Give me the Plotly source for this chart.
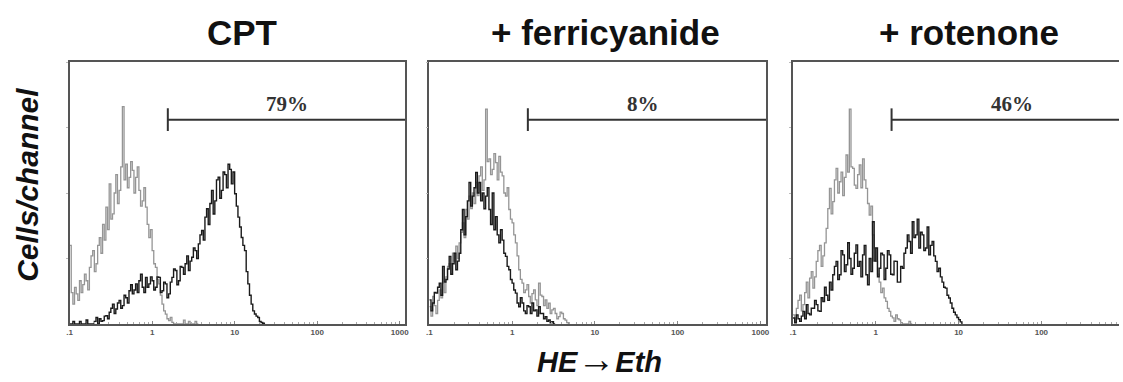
import plotly.graph_objects as go

# ---------------- data (cells/channel, relative units 0-100) ----------------
# channel i sits at log10(HE->Eth) = LOG_START + LOG_STEP * i
LOG_START = -1.0
LOG_STEP = 0.02

cpt_control = [30, 12, 7.6, 14, 11.5, 9, 16.5, 12, 15, 19, 16.5, 13, 21.6, 26, 28, 20,
               23, 30, 33, 27, 38, 32, 44.6, 36, 53.5, 40, 42, 50, 57, 46, 51, 60,
               83, 55, 61, 52, 56, 62, 58.6, 50, 56, 60, 51, 45, 47, 52, 44.6, 38,
               33, 36, 28, 23, 21.6, 17, 15.3, 11, 7.6, 5, 3.8, 2, 1.3, 2.5,
               0.6, 0, 0, 0, 0, 0, 0, 1.5, 0, 0, 1, 0, 0, 0, 1, 0, 0]
cpt_treated = [0, 0, 1, 0, 0, 0, 1, 0, 0, 0, 1.5, 0, 0, 0, 0, 1,
               2.5, 0, 2, 1, 1.3, 3, 3.2, 2, 4.5, 6, 7.6, 4, 5.7, 8, 9, 6,
               7, 11, 10, 8, 12.7, 15, 11.5, 13, 15.3, 12, 16.5, 19, 14, 12, 17.8, 14,
               15.3, 18, 16.5, 13, 14, 18, 17.8, 12, 12.7, 16, 15.3, 10, 11.5, 16, 17.8, 21,
               20.4, 15, 16.5, 22, 21.6, 19, 23, 26, 20.4, 24, 25.5, 29, 28, 25, 30.6, 34,
               35.7, 32, 40.8, 44, 38, 46, 51, 42, 47, 55, 56, 48, 51, 58, 57, 52,
               61, 59, 53.5, 58, 49.7, 45, 40.8, 37, 33, 30, 28, 20, 15.3, 11, 7.6, 5,
               3.8, 3, 2.5, 1, 0.6, 0.3, 0]

fer_control = [6.6, 3, 10.5, 7, 4, 9, 13, 10, 15.6, 12, 18, 22, 23, 19, 27, 24,
               29.7, 25, 31, 35, 38.6, 33, 43.7, 40, 48.8, 44, 50, 46, 54, 49, 56.5, 60,
               51, 55, 82, 62, 63, 57, 59, 65, 61.6, 55, 64, 58, 56.5, 50, 48.8, 52,
               43.7, 40, 38.6, 34, 31, 26, 20.7, 17, 15.6, 12, 13, 15, 10.5, 8,
               11.6, 13, 9.2, 7, 15.6, 11, 10.5, 7, 9.2, 6, 8, 4, 5.4, 6, 4, 2,
               2.8, 4.5, 4, 2, 1.5, 0.5, 0]
fer_treated = [9.2, 5, 8, 12, 11.8, 14, 15.6, 11, 22, 16, 17, 21, 25.8, 19, 23, 27,
               20.7, 24, 27, 36, 43.7, 34, 41, 47, 54, 45, 48.8, 52, 57.8, 50, 54, 47,
               50, 44, 48.8, 52, 43.7, 38, 50, 36, 41, 34, 31, 36, 32, 27, 25.8, 22,
               20.7, 17, 15.6, 13, 11.8, 8, 6.6, 10, 8, 5, 4, 7, 6.6, 4,
               8, 5, 5.4, 3, 6.6, 4, 4, 2, 2.8, 1, 1.5, 0.5, 0.9, 0, 0]

rot_control = [3.5, 1, 6, 9, 11, 5, 7.4, 12, 16, 10, 17.5, 20, 13.7, 18, 23.9, 28,
               30, 22, 26, 31, 36.5, 44, 51.8, 42, 46.7, 55, 59.4, 50, 54.3, 58, 49, 56,
               64.5, 58, 82, 60, 59.4, 53, 51.8, 57, 60.7, 52, 63, 55, 51.8, 46, 41.6, 45,
               34, 29, 23.9, 19, 16, 12, 13.7, 10, 8.6, 6, 4.8, 3, 2.3, 1,
               3.5, 2, 1.6, 0.5, 0, 0, 0, 0, 1, 0, 0]
rot_treated = [2.3, 0.5, 3.5, 2, 1, 3, 4.8, 2, 7.4, 4, 3.5, 6, 6, 9, 7.4, 5,
               4.8, 10, 8.6, 14, 11, 9, 16, 13, 18.8, 22, 23.9, 17, 18.8, 28, 26.4, 20,
               22.6, 31, 25, 19, 21.3, 27, 30.2, 22, 23.9, 18, 26.4, 30, 18.8, 15, 25, 20,
               39, 24, 29, 18, 21.3, 27, 26.4, 17, 21.3, 28, 26.4, 19, 18.8, 24, 23.9, 16,
               16, 22, 21.3, 27, 29, 34, 31.5, 27, 39, 33, 34, 40, 29, 35, 34, 28,
               29, 37, 26.4, 30, 31.5, 26, 23.9, 20, 21.3, 18, 16, 14, 13.7, 11, 9.9, 8,
               6, 4.5, 3.5, 2.5, 1.6, 0.8, 0]

panel_titles = ["CPT", "+ ferricyanide", "+ rotenone"]
gate_labels = ["79%", "8%", "46%"]
gate_start = [1.55, 1.55, 1.55]
gate_label_log = [1.64, 1.58, 1.65]
gate_level = 78
tick_vals = [0.1, 1, 10, 100, 1000]
tick_text = [".1", "1", "10", "100", "1000"]

# ---------------- figure ----------------
W, H = 1123, 382
GRAY = "#959595"
BLACK = "#1a1a1a"
AXC = "#555555"

panels = [(cpt_control, cpt_treated), (fer_control, fer_treated), (rot_control, rot_treated)]
x_domains = [[67 / W, 405 / W], [429 / W, 768 / W], [795 / W, 1.0]]
x_ranges = [[-1, 3.07], [-1, 3.07], [-1, -1 + 4.07 * (W - 795) / 339]]
y_domain = [(H - 324) / H, (H - 62) / H]

minor_vals = [m * 10 ** d for d in range(-1, 4) for m in range(2, 10)]


def centers(n):
    return [10 ** (LOG_START + LOG_STEP * i) for i in range(n)]


fig = go.Figure()
for k, (ctrl, trt) in enumerate(panels):
    xa = "x" if k == 0 else f"x{k+1}"
    ya = "y" if k == 0 else f"y{k+1}"
    fig.add_trace(go.Scatter(x=centers(len(ctrl)), y=ctrl, mode="lines",
                             line=dict(color=GRAY, width=1.3, shape="hv"),
                             xaxis=xa, yaxis=ya, showlegend=False, hoverinfo="skip"))
    fig.add_trace(go.Scatter(x=centers(len(trt)), y=trt, mode="lines",
                             line=dict(color=BLACK, width=1.4, shape="hv"),
                             xaxis=xa, yaxis=ya, showlegend=False, hoverinfo="skip"))
    # gate marker
    fig.add_trace(go.Scatter(x=[gate_start[k], 5000], y=[gate_level, gate_level], mode="lines",
                             line=dict(color="#333333", width=2),
                             xaxis=xa, yaxis=ya, showlegend=False, hoverinfo="skip"))
    fig.add_trace(go.Scatter(x=[gate_start[k], gate_start[k]], y=[gate_level - 4.3, gate_level + 4.3],
                             mode="lines", line=dict(color="#333333", width=2),
                             xaxis=xa, yaxis=ya, showlegend=False, hoverinfo="skip"))
    fig.add_annotation(x=gate_label_log[k], y=84, xref=xa, yref=ya, text=f"<b>{gate_labels[k]}</b>",
                       showarrow=False, xanchor="center", yanchor="middle",
                       font=dict(family="Liberation Serif", size=21, color="#333333"))

    xkey = "xaxis" if k == 0 else f"xaxis{k+1}"
    ykey = "yaxis" if k == 0 else f"yaxis{k+1}"
    fig.update_layout(**{
        xkey: dict(domain=x_domains[k], anchor=ya, type="log", range=x_ranges[k],
                   showline=True, linecolor=AXC, linewidth=1.6, mirror=True,
                   showgrid=False, zeroline=False,
                   tickmode="array", tickvals=tick_vals,
                   ticktext=[f"<b>{t}</b>" for t in tick_text],
                   ticks="inside", ticklen=3, tickcolor="#888888",
                   tickfont=dict(family="Liberation Sans", size=8, color="#555555"),
                   minor=dict(tickmode="array", tickvals=minor_vals, ticks="inside",
                              ticklen=2, tickcolor="#aaaaaa", showgrid=False),
                   fixedrange=True),
        ykey: dict(domain=y_domain, anchor=xa, range=[0, 100],
                   showline=True, linecolor=AXC, linewidth=1.6, mirror=(k < 2),
                   showgrid=False, zeroline=False, showticklabels=False,
                   tickmode="array", tickvals=[25, 50, 75, 100],
                   ticks="outside", ticklen=2, tickcolor="#bbbbbb",
                   fixedrange=True),
    })

title_x = [240 / W, 606 / W, 972 / W]
for k, t in enumerate(panel_titles):
    fig.add_annotation(x=title_x[k], y=(H - 33) / H, xref="paper", yref="paper",
                       text=f"<b>{t}</b>", showarrow=False, xanchor="center", yanchor="middle",
                       font=dict(family="Liberation Sans", size=35, color="#111111"))

fig.add_annotation(x=600 / W, y=0, xref="paper", yref="paper",
                   text="<b><i>HE<span style='font-size:38px'>→</span>Eth</i></b>",
                   showarrow=False, xanchor="center", yanchor="bottom",
                   font=dict(family="Liberation Sans", size=29, color="#111111"))
fig.add_annotation(x=24 / W, y=(H - 185) / H, xref="paper", yref="paper",
                   text="<b><i>Cells/channel</i></b>", showarrow=False, textangle=-90,
                   xanchor="center", yanchor="middle",
                   font=dict(family="Liberation Sans", size=30, color="#111111"))

fig.update_layout(width=W, height=H, margin=dict(l=0, r=0, t=0, b=0),
                  paper_bgcolor="white", plot_bgcolor="white")
fig.write_html("out.html", config={"displayModeBar": False},
               post_script="document.body.style.margin='0';document.body.style.overflow='hidden';")
